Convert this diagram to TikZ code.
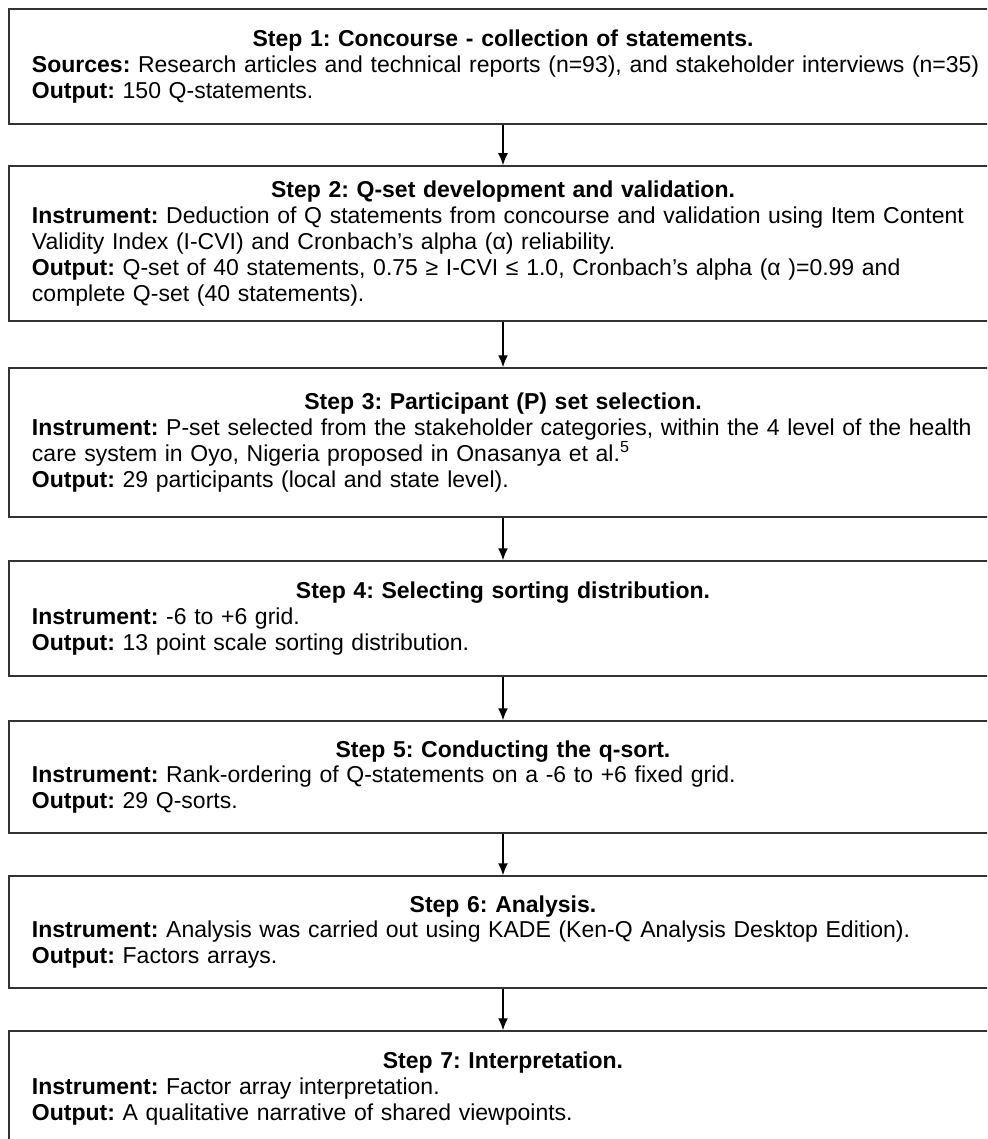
\documentclass[tikz,border=0pt]{standalone}
\usepackage{fontspec}
\setmainfont{Liberation Sans}
\frenchspacing
\usetikzlibrary{arrows.meta,positioning}

\begin{document}
\begin{tikzpicture}[x=0.5pt,y=-0.5pt]
\tikzstyle{stepbox}=[rectangle,draw=black!80,line width=0.75pt,
inner xsep=11.5pt,inner ysep=0pt,text width=471pt,minimum width=494pt,
align=left,font=\fontsize{11.5}{12.9}\selectfont]
\tikzstyle{flow}=[-{Latex[length=6pt,width=5pt]},line width=0.75pt]
\useasboundingbox (0,0) rectangle (987,1139);
\clip (0,0) rectangle (987,1139);

\node[stepbox,minimum height=57.5pt] at (503,66.5) (s1) {{\centering\textbf{Step 1: Concourse - collection of statements.}\par}
\mbox{\textbf{Sources:} Research articles and technical reports (n=93), and stakeholder interviews (n=35)}\\
\textbf{Output:} 150 Q-statements.};
\node[stepbox,minimum height=77.5pt] at (503,243.5) (s2) {{\centering\textbf{Step 2: Q-set development and validation.}\par}
\mbox{\textbf{Instrument:} Deduction of Q statements from concourse and validation using Item Content}\\
Validity Index (I-CVI) and Cronbach's alpha (α) reliability.\\
\mbox{\textbf{Output:} Q-set of 40 statements, 0.75 ≥ I-CVI ≤ 1.0, Cronbach's alpha (α )=0.99 and}\\
complete Q-set (40 statements).};
\node[stepbox,minimum height=74.5pt] at (503,442.5) (s3) {{\centering\textbf{Step 3: Participant (P) set selection.}\par}
\mbox{\textbf{Instrument:} P-set selected from the stakeholder categories, within the 4 level of the health}\\
care system in Oyo, Nigeria proposed in Onasanya et al.\textsuperscript{5}\\
\textbf{Output:} 29 participants (local and state level).\par\vspace*{20pt}};
\node[stepbox,minimum height=57.5pt] at (503,618.5) (s4) {{\centering\textbf{Step 4: Selecting sorting distribution.}\par}
\textbf{Instrument:} -6 to +6 grid.\\
\textbf{Output:} 13 point scale sorting distribution.};
\node[stepbox,minimum height=56pt] at (503,777) (s5) {{\centering\textbf{Step 5: Conducting the q-sort.}\par}
\textbf{Instrument:} Rank-ordering of Q-statements on a -6 to +6 fixed grid.\\
\textbf{Output:} 29 Q-sorts.};
\node[stepbox,minimum height=56pt] at (503,932) (s6) {{\centering\textbf{Step 6: Analysis.}\par}
\textbf{Instrument:} Analysis was carried out using KADE (Ken-Q Analysis Desktop Edition).\\
\textbf{Output:} Factors arrays.};
\node[stepbox,minimum height=57.5pt] at (503,1088.5) (s7) {{\centering\textbf{Step 7: Interpretation.}\par}
\textbf{Instrument:} Factor array interpretation.\\
\textbf{Output:} A qualitative narrative of shared viewpoints.};

\path[flow] (s1) edge (s2);
\path[flow] (s2) edge (s3);
\path[flow] (s3) edge (s4);
\path[flow] (s4) edge (s5);
\path[flow] (s5) edge (s6);
\path[flow] (s6) edge (s7);

\end{tikzpicture}
\end{document}
